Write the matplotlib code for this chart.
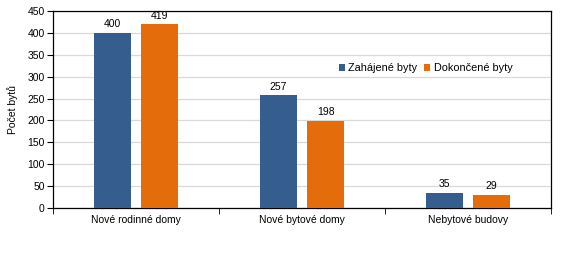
import matplotlib
matplotlib.use("Agg")
from matplotlib import pyplot as plt
import numpy as np

categories = ["Nové rodinné domy", "Nové bytové domy", "Nebytové budovy"]
zahajene = [400, 257, 35]
dokoncene = [419, 198, 29]
series_names = ["Zahájené byty", "Dokončené byty"]
colors = ["#355E8E", "#E46C0A"]

plt.rcParams["font.family"] = ["Liberation Sans", "DejaVu Sans"]
plt.rcParams["font.size"] = 7.5

fig = plt.figure(figsize=(5.65, 2.66), dpi=100)
ax = fig.add_axes([0.0938, 0.218, 0.8814, 0.741])

x = np.arange(len(categories))
w = 0.223
off = 0.142
b1 = ax.bar(x - off, zahajene, w, color=colors[0], label=series_names[0], zorder=3)
b2 = ax.bar(x + off, dokoncene, w, color=colors[1], label=series_names[1], zorder=3)
for bars in (b1, b2):
    for r in bars:
        ax.text(r.get_x() + r.get_width() / 2, r.get_height() + 9, f"{int(r.get_height())}",
                ha="center", va="bottom", fontsize=7.5, color="#000000")

ax.set_xlim(-0.5, 2.5)
ax.set_ylim(0, 450)
ax.set_yticks(range(0, 451, 50))
ax.set_xticks(x)
ax.set_xticklabels(categories)
ax.tick_params(axis="x", length=0, pad=5)
ax.set_xticks([-0.5, 0.5, 1.5, 2.5], minor=True)
ax.tick_params(axis="x", which="minor", length=4, color="#000000")
ax.tick_params(axis="y", length=4, pad=2, color="#000000")
ax.grid(axis="y", color="#D9D9D9", linewidth=0.9, zorder=0)
for s in ax.spines.values():
    s.set_color("#000000")
    s.set_linewidth(0.9)
ax.set_ylabel("Počet bytů", fontsize=7.5, labelpad=7)

leg = ax.legend(loc="center", bbox_to_anchor=(0.748, 0.71), ncol=2, frameon=True,
                handlelength=0.6, handleheight=0.6, handletextpad=0.3, columnspacing=0.6,
                fontsize=7.8, borderpad=0.2)
leg.get_frame().set_edgecolor("none")
leg.get_frame().set_facecolor("white")
leg.get_frame().set_alpha(1)

fig.savefig("out.png", dpi=100)
